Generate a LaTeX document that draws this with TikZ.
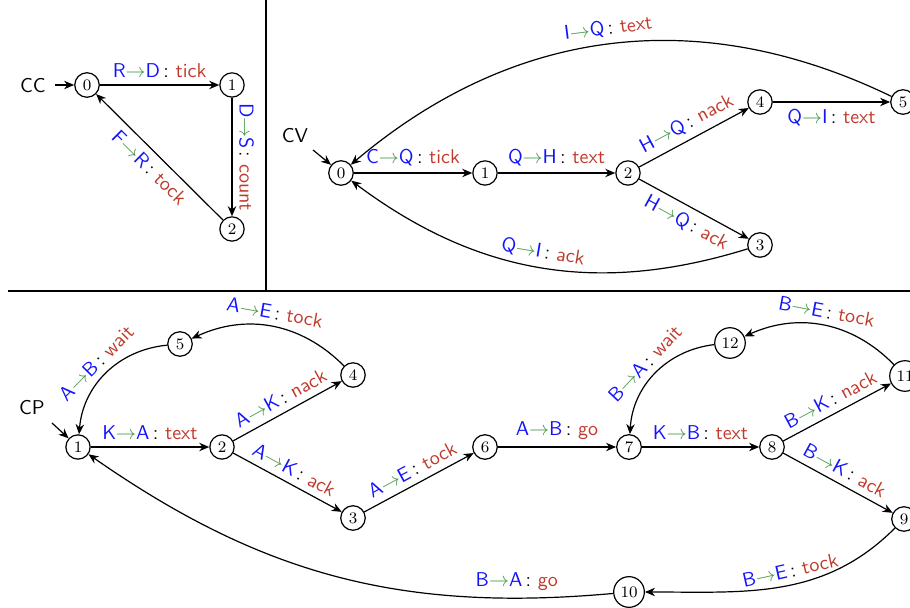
\documentclass[tikz,border=0pt]{standalone}
\usetikzlibrary{arrows.meta}
\definecolor{labblue}{RGB}{20,20,250}
\definecolor{labgreen}{RGB}{70,150,70}
\definecolor{labred}{RGB}{192,57,43}
\newcommand{\elab}[3]{\textcolor{labblue}{#1}\textcolor{labgreen}{$\rightarrow$}\textcolor{labblue}{#2}\,:\ \textcolor{labred}{#3}}
\begin{document}
\begin{tikzpicture}[x=0.5pt,y=0.5pt,font=\sffamily,
  st/.style={circle,draw,line width=0.6pt,inner sep=1.9pt,minimum size=10pt,font=\footnotesize\rmfamily},
  tr/.style={->,line width=0.6pt},
  divider/.style={line width=1pt},
  >={Stealth[length=5pt,width=4.2pt,inset=1.6pt]}]
\useasboundingbox (0,0) rectangle (910,-608);
% dividers
\draw[divider] (266,0) -- (266,-291);
\draw[divider] (8,-291) -- (910,-291);
% ---------- CC ----------
\node[st] (c0) at (87,-85) {0};
\node[st] (c1) at (232,-85) {1};
\node[st] (c2) at (232,-229) {2};
\node (cct) at (33,-86) {CC};
\coordinate (cci) at (55,-85);
\draw[tr] (cci) -- (c0);
\draw[tr] (c0) -- node[above]{\elab{R}{D}{tick}} (c1);
\draw[tr] (c1) -- node[above,sloped]{\elab{D}{S}{count}} (c2);
\draw[tr] (c2) -- node[below,sloped]{\elab{F}{R}{tock}} (c0);
% ---------- CV ----------
\node[st] (v0) at (341,-173) {0};
\node[st] (v1) at (485,-173) {1};
\node[st] (v2) at (628,-173) {2};
\node[st] (v4) at (760,-102) {4};
\node[st] (v5) at (903,-102) {5};
\node[st] (v3) at (760,-245) {3};
\node (cvt) at (295,-136) {CV};
\coordinate (cvi) at (313,-150);
\draw[tr] (cvi) -- (v0);
\draw[tr] (v0) -- node[above]{\elab{C}{Q}{tick}} (v1);
\draw[tr] (v1) -- node[above]{\elab{Q}{H}{text}} (v2);
\draw[tr] (v2) -- node[above,sloped]{\elab{H}{Q}{nack}} (v4);
\draw[tr] (v4) -- node[below]{\elab{Q}{I}{text}} (v5);
\draw[tr] (v2) -- node[below,sloped]{\elab{H}{Q}{ack}} (v3);
\draw[tr] (v3) to[bend left=27] node[above,sloped]{\elab{Q}{I}{ack}} (v0);
\draw[tr] (v5) to[bend right=33] node[above,sloped]{\elab{I}{Q}{text}} (v0);
% ---------- CP ----------
\node[st] (p1) at (78,-447) {1};
\node[st] (p2) at (222,-447) {2};
\node[st] (p4) at (353,-375) {4};
\node[st] (p5) at (180,-344) {5};
\node[st] (p3) at (353,-518) {3};
\node[st] (p6) at (485,-447) {6};
\node[st] (p7) at (629,-447) {7};
\node[st] (p8) at (772,-447) {8};
\node[st] (p12) at (730,-343) {12};
\node[st] (p11) at (905,-376) {11};
\node[st] (p9) at (904,-519) {9};
\node[st] (p10) at (629,-592) {10};
\node (cpt) at (32,-408) {CP};
\coordinate (cpi) at (52,-423);
\draw[tr] (cpi) -- (p1);
\draw[tr] (p1) -- node[above]{\elab{K}{A}{text}} (p2);
\draw[tr] (p2) -- node[above,sloped]{\elab{A}{K}{nack}} (p4);
\draw[tr] (p2) -- node[above,sloped]{\elab{A}{K}{ack}} (p3);
\draw[tr] (p4) to[bend right=35] node[above,sloped]{\elab{A}{E}{tock}} (p5);
\draw[tr] (p5) to[bend right=40] node[above,sloped]{\elab{A}{B}{wait}} (p1);
\draw[tr] (p3) -- node[above,sloped]{\elab{A}{E}{tock}} (p6);
\draw[tr] (p6) -- node[above]{\elab{A}{B}{go}} (p7);
\draw[tr] (p7) -- node[above]{\elab{K}{B}{text}} (p8);
\draw[tr] (p8) -- node[above,sloped]{\elab{B}{K}{nack}} (p11);
\draw[tr] (p8) -- node[above,sloped]{\elab{B}{K}{ack}} (p9);
\draw[tr] (p11) to[bend right=35] node[above,sloped]{\elab{B}{E}{tock}} (p12);
\draw[tr] (p12) to[bend right=40] node[above,sloped]{\elab{B}{A}{wait}} (p7);
\draw[tr] (p9) to[out=225,in=0] node[pos=0.45,above,sloped]{\elab{B}{E}{tock}} (p10);
\draw[tr] (p10) to[bend left=20] node[pos=0.16,above,sloped]{\elab{B}{A}{go}} (p1);
\end{tikzpicture}
\end{document}
